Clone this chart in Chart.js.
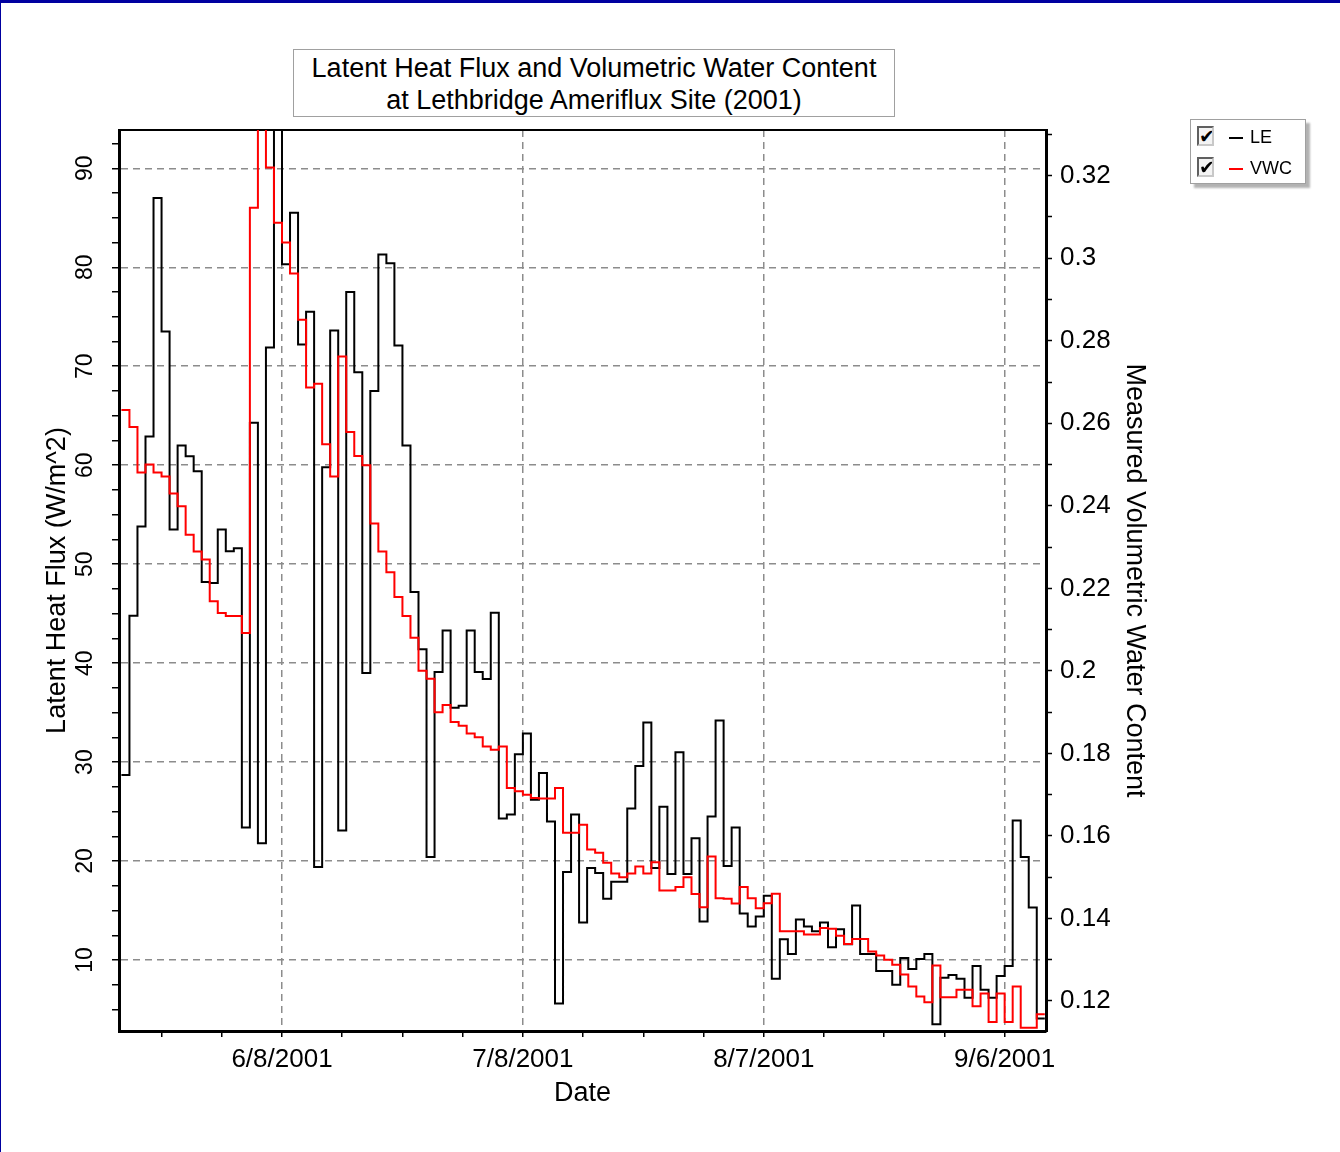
<!DOCTYPE html>
<html>
<head>
<meta charset="utf-8">
<title>Latent Heat Flux and Volumetric Water Content</title>
<script src="https://cdn.jsdelivr.net/npm/chart.js@4.4.1/dist/chart.umd.min.js"></script>
<style>
    html, body { margin: 0; padding: 0; background: #fff; }
    #page { position: relative; width: 1340px; height: 1152px; overflow: hidden; font-family: "Liberation Sans", Arial, sans-serif; color: #000; }
    #page::after { content: ''; position: absolute; left: 0; top: 0; right: 0; bottom: 0; border-top: 3px solid #0000a0; border-left: 1px solid #0000a0; pointer-events: none; }
    #chart { position: absolute; left: 0; top: 0; }
    #title { position: absolute; left: 293px; top: 49px; width: 602px; height: 68px; box-sizing: border-box; border: 1px solid #a0a0a0; background: #fff; text-align: center; font-size: 27px; line-height: 32px; padding-top: 2px; }
    #legend { position: absolute; left: 1190px; top: 119px; width: 116px; height: 65px; box-sizing: border-box; border: 1px solid #a0a0a0; background: #fff; box-shadow: 4px 4px 2px rgba(0,0,0,0.3); font-size: 18px; }
    #legend .chk { position: absolute; left: 6px; width: 17px; height: 20px; box-sizing: border-box; border: 2px solid; border-color: #606060 #c8c8c8 #c8c8c8 #606060; background: #f4f4f4; font: bold 19px "DejaVu Sans", sans-serif; line-height: 16px; text-align: center; overflow: hidden; }
    #legend .dash { position: absolute; left: 38px; width: 14px; height: 2px; }
    #legend .txt { position: absolute; left: 59px; line-height: 20px; }
</style>
</head>
<body>
<div id="page">
    <canvas id="chart" width="1340" height="1152"></canvas>
    <div id="title">Latent Heat Flux and Volumetric Water Content<br>at Lethbridge Ameriflux Site (2001)</div>
    <div id="legend">
        <span class="chk" style="top:6px">✔</span><span class="dash" style="top:17px;background:#000"></span><span class="txt" style="top:7px">LE</span>
        <span class="chk" style="top:37px">✔</span><span class="dash" style="top:48px;background:#f00"></span><span class="txt" style="top:38px">VWC</span>
    </div>
</div>
<script>
// daily values, first one on 19 May 2001 (day of year, Jan 1 = 0)
const firstDay = 138;

// latent heat flux, W/m^2
const latentHeat = [
    28.7, 44.8, 53.8, 62.9, 87.0, 73.5, 53.5, 62.0, 60.9, 59.4,
    48.2, 48.1, 53.5, 51.3, 51.6, 23.4, 64.3, 21.8, 71.9, 96.0,
    80.3, 85.5, 72.2, 75.5, 19.4, 59.8, 73.6, 23.1, 77.5, 69.4,
    39.0, 67.5, 81.3, 80.4, 72.1, 62.0, 47.2, 41.4, 20.4, 39.1,
    43.3, 35.5, 35.7, 43.3, 39.1, 38.4, 45.1, 24.3, 24.7, 30.8,
    32.9, 26.2, 28.9, 24.0, 5.6, 18.9, 24.7, 13.8, 19.3, 18.8,
    16.2, 17.9, 17.9, 25.3, 29.6, 34.0, 19.3, 25.5, 18.7, 31.0,
    18.7, 22.3, 13.9, 24.5, 34.2, 19.5, 23.4, 14.7, 13.4, 14.4,
    16.5, 8.1, 12.1, 10.6, 14.1, 13.4, 12.9, 13.8, 11.3, 13.1,
    11.6, 15.5, 10.6, 10.6, 8.9, 8.9, 7.5, 10.2, 9.1, 10.1,
    10.6, 3.5, 8.2, 8.5, 8.1, 6.2, 9.4, 7.0, 6.2, 8.4,
    9.4, 24.1, 20.4, 15.3, 4.1
];

// measured volumetric water content
const waterContent = [
    0.2632, 0.2591, 0.2481, 0.2500, 0.2481, 0.2471, 0.2430, 0.2399, 0.2330, 0.2289,
    0.2270, 0.2169, 0.2140, 0.2133, 0.2133, 0.2092, 0.3122, 0.3350, 0.3220, 0.3086,
    0.3038, 0.2963, 0.2851, 0.2687, 0.2696, 0.2549, 0.2471, 0.2762, 0.2579, 0.2521,
    0.2498, 0.2357, 0.2289, 0.2239, 0.2179, 0.2133, 0.2080, 0.2000, 0.1981, 0.1900,
    0.1917, 0.1876, 0.1867, 0.1848, 0.1839, 0.1817, 0.1809, 0.1817, 0.1716, 0.1708,
    0.1700, 0.1692, 0.1691, 0.1691, 0.1716, 0.1608, 0.1608, 0.1627, 0.1567, 0.1559,
    0.1535, 0.1509, 0.1500, 0.1509, 0.1526, 0.1509, 0.1536, 0.1468, 0.1468, 0.1476,
    0.1500, 0.1459, 0.1427, 0.1550, 0.1449, 0.1448, 0.1436, 0.1476, 0.1449, 0.1425,
    0.1437, 0.1460, 0.1369, 0.1369, 0.1369, 0.1361, 0.1361, 0.1377, 0.1375, 0.1358,
    0.1338, 0.1350, 0.1350, 0.1320, 0.1310, 0.1300, 0.1288, 0.1264, 0.1235, 0.1211,
    0.1197, 0.1286, 0.1209, 0.1209, 0.1227, 0.1227, 0.1187, 0.1218, 0.1149, 0.1218,
    0.1149, 0.1235, 0.1135, 0.1135, 0.1168
];

// axis ticks
const dateTickDays = [158, 188, 218, 248];
const dateTickLabels = ['6/8/2001', '7/8/2001', '8/7/2001', '9/6/2001'];
const leTicks = [10, 20, 30, 40, 50, 60, 70, 80, 90];
const vwcTicks = [0.12, 0.14, 0.16, 0.18, 0.2, 0.22, 0.24, 0.26, 0.28, 0.3, 0.32];

const xRange = [137.7, 253.15];
const leRange = [2.83, 93.87];
const vwcRange = [0.11273, 0.33107];

const gridGrey = '#8c8c8c';
const noLine = 'rgba(0,0,0,0)';
const sans = '"Liberation Sans", Arial, sans-serif';
const labelFont = { family: sans, size: 26 };
const titleFont = { family: sans, size: 27 };

// majors plus the small unlabelled ticks in between
function withMinor(majors, step, range) {
    const out = [];
    let v = majors[0];
    while (v - step >= range[0] - 1e-9) v -= step;
    for (; v <= range[1] + 1e-9; v += step) out.push(Math.round(v * 1e6) / 1e6);
    return out;
}
const isMajor = (list, v) => list.some(t => Math.abs(t - v) < 1e-6);

// each daily value holds until the next day
function steps(values) {
    const pts = values.map((v, i) => ({ x: firstDay + i, y: v }));
    pts.push({ x: firstDay + values.length, y: values[values.length - 1] });
    return pts;
}

const ctx = document.getElementById('chart').getContext('2d');
new Chart(ctx, {
    type: 'line',
    data: {
        datasets: [
            {
                label: 'LE',
                data: steps(latentHeat),
                yAxisID: 'y',
                borderColor: '#000',
                borderWidth: 2,
                stepped: true,
                pointRadius: 0,
                fill: false,
                order: 1
            },
            {
                label: 'VWC',
                data: steps(waterContent),
                yAxisID: 'y2',
                borderColor: '#ff0000',
                borderWidth: 2,
                stepped: true,
                pointRadius: 0,
                fill: false,
                order: 0
            }
        ]
    },
    options: {
        responsive: false,
        animation: false,
        events: [],
        layout: { padding: { left: 0, right: 184, top: 130, bottom: 0 } },
        plugins: {
            legend: { display: false },
            tooltip: { enabled: false }
        },
        scales: {
            x: {
                type: 'linear',
                position: 'bottom',
                min: xRange[0],
                max: xRange[1],
                afterBuildTicks: s => { s.ticks = withMinor(dateTickDays, 7.5, xRange).map(v => ({ value: v })); },
                afterFit: s => { s.height = 121; },
                ticks: {
                    autoSkip: false,
                    maxRotation: 0,
                    padding: 7,
                    color: '#000',
                    font: labelFont,
                    callback: v => {
                        const i = dateTickDays.indexOf(v);
                        return i >= 0 ? dateTickLabels[i] : '';
                    }
                },
                grid: {
                    color: c => (c.tick && dateTickDays.includes(c.tick.value)) ? gridGrey : noLine,
                    lineWidth: 1.5,
                    tickColor: '#000',
                    tickWidth: 1.5,
                    tickLength: 6,
                    tickBorderDash: []
                },
                border: { display: true, color: '#000', width: 3, dash: [7, 5] },
                title: { display: true, text: 'Date', color: '#000', font: titleFont, padding: { top: 0, bottom: 42 } }
            },
            x2: {
                type: 'linear',
                position: 'top',
                afterFit: s => { s.height = 0; },
                ticks: { display: false },
                grid: { display: false },
                border: { display: true, color: '#000', width: 2 }
            },
            y: {
                type: 'linear',
                position: 'left',
                min: leRange[0],
                max: leRange[1],
                afterBuildTicks: s => { s.ticks = withMinor(leTicks, 2.5, leRange).map(v => ({ value: v })); },
                afterFit: s => { s.width = 119; },
                ticks: {
                    autoSkip: false,
                    minRotation: 90,
                    maxRotation: 90,
                    crossAlign: 'center',
                    padding: 14,
                    color: '#000',
                    font: { family: sans, size: 23 },
                    callback: v => isMajor(leTicks, v) ? String(v) : ''
                },
                grid: {
                    color: c => (c.tick && isMajor(leTicks, c.tick.value)) ? gridGrey : noLine,
                    lineWidth: 1.5,
                    tickColor: '#000',
                    tickWidth: 1.5,
                    tickLength: 7,
                    tickBorderDash: []
                },
                border: { display: true, color: '#000', width: 3, dash: [7, 5] },
                title: { display: true, text: 'Latent Heat Flux (W/m^2)', color: '#000', font: titleFont, padding: { top: 41, bottom: 0 } }
            },
            y2: {
                type: 'linear',
                position: 'right',
                min: vwcRange[0],
                max: vwcRange[1],
                afterBuildTicks: s => { s.ticks = withMinor(vwcTicks, 0.01, vwcRange).map(v => ({ value: v })); },
                afterFit: s => { s.width = 110; },
                ticks: {
                    autoSkip: false,
                    padding: 8,
                    color: '#000',
                    font: labelFont,
                    callback: v => isMajor(vwcTicks, v) ? String(Math.round(v * 100) / 100) : ''
                },
                grid: {
                    drawOnChartArea: false,
                    color: '#000',
                    tickColor: '#000',
                    tickWidth: 1.5,
                    tickLength: 6,
                    tickBorderDash: []
                },
                border: { display: true, color: '#000', width: 3 },
                title: { display: true, text: 'Measured Volumetric Water Content', color: '#000', font: titleFont, padding: { top: 5, bottom: 0 } }
            }
        }
    }
});
</script>
</body>
</html>
